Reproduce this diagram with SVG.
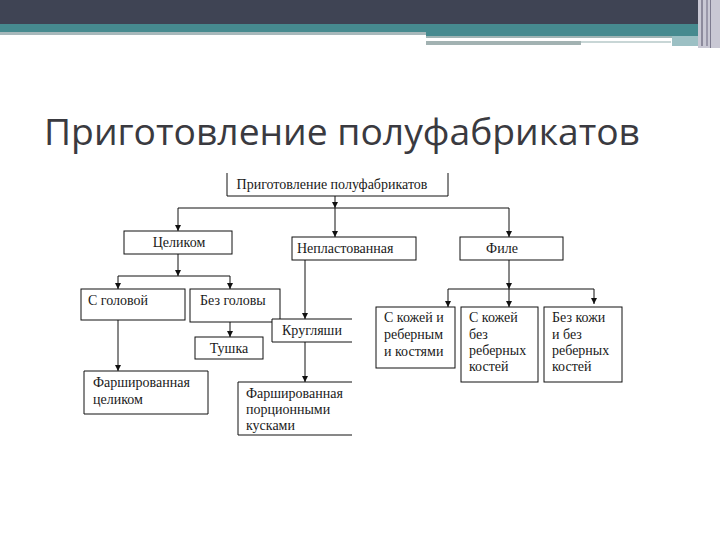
<svg xmlns="http://www.w3.org/2000/svg" width="720" height="540" viewBox="0 0 720 540">
<defs>
<marker id="ah" viewBox="0 0 8 8" refX="8" refY="4" markerWidth="6" markerHeight="6" markerUnits="userSpaceOnUse" orient="auto">
<path d="M0,0 L8,4 L0,8 Z" fill="#111"/>
</marker>
<style>
.b{fill:#fff;stroke:#111;stroke-width:1}
.t{font-family:"Liberation Serif","Times New Roman",serif;font-size:14px;fill:#1a1a1a}
.c{fill:none;stroke:#111;stroke-width:1}
.a{fill:none;stroke:#111;stroke-width:1;marker-end:url(#ah)}
</style>
</defs>
<rect width="720" height="540" fill="#fff"/>
<g id="header">
<rect x="0" y="0" width="698" height="24" fill="#3f4454"/>
<rect x="0" y="24" width="698" height="8" fill="#468a8f"/>
<rect x="0" y="32" width="426" height="3" fill="#a7b8bb"/>
<rect x="426" y="32" width="272" height="4" fill="#468a8f"/>
<rect x="426" y="36" width="246" height="2" fill="#9fb4b4"/>
<rect x="426" y="41" width="155" height="4" fill="#a2b2b2"/>
<rect x="581" y="41" width="90" height="2" fill="#c8d6d6"/>
<rect x="672" y="36" width="26" height="10" fill="#9cc0c4"/>
<rect x="698" y="0" width="22" height="48" fill="#c9c8d4"/>
<rect x="701" y="0" width="2" height="46" fill="#8c8a9c"/>
<rect x="706" y="0" width="2" height="46" fill="#9a98aa"/>
<rect x="710" y="0" width="1" height="48" fill="#7d7b8f"/>
</g>
<text x="44" y="145" font-family="'Open Sans','DejaVu Sans',sans-serif" font-size="37" fill="#3a3a40" textLength="596" lengthAdjust="spacingAndGlyphs">Приготовление полуфабрикатов</text>
<g id="connectors">
<path class="c" d="M178,208 H509"/>
<path class="a" d="M335,196 V208"/>
<path class="a" d="M178,208 V231"/>
<path class="a" d="M335,208 V237"/>
<path class="a" d="M509,208 V237"/>
<path class="c" d="M118,276 H230"/>
<path class="a" d="M178,254 V276"/>
<path class="a" d="M118,276 V289"/>
<path class="a" d="M230,276 V289"/>
<path class="a" d="M230,322 V337"/>
<path class="a" d="M305,260 V319"/>
<path class="a" d="M305,342 V382"/>
<path class="a" d="M118,320 V371"/>
<path class="c" d="M448,289 H594"/>
<path class="a" d="M509,260 V289"/>
<path class="a" d="M448,289 V307"/>
<path class="a" d="M509,289 V307"/>
<path class="a" d="M594,289 V304"/>
</g>
<g id="n_root"><path class="b" d="M227,173 V196 H448 V173"/><text class="t" x="332" y="189" text-anchor="middle">Приготовление полуфабрикатов</text></g>
<g id="n_celikom"><rect class="b" x="124" y="231" width="108" height="23"/><text class="t" x="179" y="247" text-anchor="middle">Целиком</text></g>
<g id="n_neplast"><rect class="b" x="292" y="237" width="124" height="23"/><text class="t" x="297" y="253">Непластованная</text></g>
<g id="n_file"><rect class="b" x="460" y="237" width="103" height="23"/><text class="t" x="502" y="253" text-anchor="middle">Филе</text></g>
<g id="n_sgolovoy"><rect class="b" x="81" y="289" width="104" height="31"/><text class="t" x="88" y="305">С головой</text></g>
<g id="n_bezgolovy"><rect class="b" x="190" y="289" width="90" height="33"/><text class="t" x="200" y="305">Без головы</text></g>
<g id="n_tushka"><rect class="b" x="195" y="337" width="68" height="22"/><text class="t" x="229" y="353" text-anchor="middle">Тушка</text></g>
<g id="n_kruglyashi"><path class="b" d="M352,319 H272 V342 H352"/><text class="t" x="282" y="335">Кругляши</text></g>
<g id="n_farsh_cel"><path class="b" d="M84,371 H208 V414 H84 Z"/><text class="t" x="93" y="387">Фаршированная</text><text class="t" x="93" y="404">целиком</text></g>
<g id="n_farsh_porc"><path class="b" d="M352,382 H238 V435 H352"/><text class="t" x="246" y="398">Фаршированная</text><text class="t" x="246" y="414">порционными</text><text class="t" x="246" y="430">кусками</text></g>
<g id="n_skozhey1"><rect class="b" x="376" y="307" width="79" height="61"/><text class="t" x="384" y="322">С кожей и</text><text class="t" x="384" y="339">реберным</text><text class="t" x="384" y="356">и костями</text></g>
<g id="n_skozhey2"><rect class="b" x="461" y="307" width="77" height="75"/><text class="t" x="469" y="322">С кожей</text><text class="t" x="469" y="339">без</text><text class="t" x="469" y="355">реберных</text><text class="t" x="469" y="371">костей</text></g>
<g id="n_bezkozhi"><rect class="b" x="544" y="307" width="78" height="75"/><text class="t" x="552" y="322">Без кожи</text><text class="t" x="552" y="339">и без</text><text class="t" x="552" y="355">реберных</text><text class="t" x="552" y="371">костей</text></g>
</svg>
